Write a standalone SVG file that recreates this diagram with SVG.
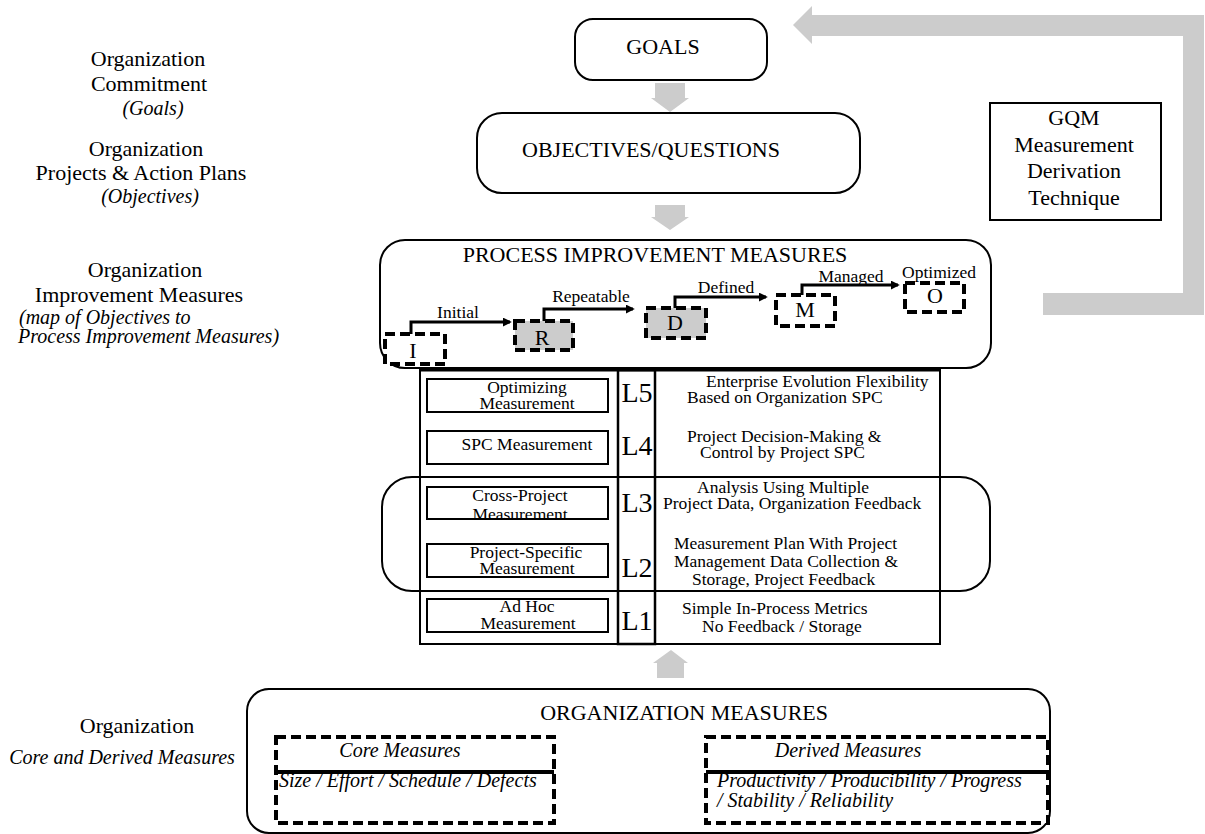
<svg xmlns="http://www.w3.org/2000/svg" width="1205" height="834" viewBox="0 0 1205 834">
  <defs>
    <style>
      .t { font-family: "Liberation Serif", "Times New Roman", serif; fill: #000; }
      .big { font-size: 22px; }
      .mid { font-size: 17.5px; }
      .it { font-size: 20px; font-style: italic; }
      .lv { font-size: 28px; }
      .box { fill: #fff; stroke: #000; stroke-width: 2; }
      .rbox { fill: none; stroke: #000; stroke-width: 2; }
      .dash { fill: #fff; stroke: #000; stroke-width: 4; stroke-dasharray: 10 5; }
      .dashg { fill: #cccccc; stroke: #000; stroke-width: 4; stroke-dasharray: 10 5; }
      .gray { fill: #cccccc; stroke: none; }
      .step { fill: none; stroke: #000; stroke-width: 3; marker-end: url(#head); }
      .ln { stroke: #000; stroke-width: 2; fill: none; }
    </style>
    <marker id="head" viewBox="0 0 10 10" refX="8" refY="5" markerWidth="3" markerHeight="3" orient="auto" markerUnits="strokeWidth">
      <path d="M0,0 L10,5 L0,10 Z" fill="#000"/>
    </marker>
    <clipPath id="clipCross">
      <rect x="427" y="487" width="181" height="31"/>
    </clipPath>
  </defs>

  <rect width="1205" height="834" fill="#fff"/>

  <!-- side captions -->
  <g id="captions">
    <text class="t big" x="148" y="66" text-anchor="middle">Organization</text>
    <text class="t big" x="149" y="91" text-anchor="middle">Commitment</text>
    <text class="t it" x="153" y="115" text-anchor="middle">(Goals)</text>
    <text class="t big" x="146" y="156" text-anchor="middle">Organization</text>
    <text class="t big" x="141" y="180" text-anchor="middle">Projects &amp; Action Plans</text>
    <text class="t it" x="150" y="203" text-anchor="middle">(Objectives)</text>
    <text class="t big" x="145" y="277" text-anchor="middle">Organization</text>
    <text class="t big" x="139" y="302" text-anchor="middle">Improvement Measures</text>
    <text class="t it" x="19" y="324">(map of Objectives to</text>
    <text class="t it" x="18" y="343">Process Improvement Measures)</text>
    <text class="t big" x="137" y="733" text-anchor="middle">Organization</text>
    <text class="t it" x="122" y="764" text-anchor="middle">Core and Derived Measures</text>
  </g>

  <!-- block arrows -->
  <g id="connectors">
    <polygon class="gray" points="655,83 685,83 685,98 689,98 670,112 651,98 655,98"/>
    <polygon class="gray" points="655,205 685,205 685,217 689,217 670,230 651,217 655,217"/>
    <polygon class="gray" points="1043,293 1183,293 1183,36 812,36 812,44 793,25 812,6 812,15 1204,15 1204,315 1043,315"/>
    <polygon class="gray" points="657,678 684,678 684,663 688,663 671,650 653,663 657,663"/>
    <polygon class="gray" points="613,768 652,768 652,760 690,776 652,792 652,784 613,784"/>
  </g>

  <g id="goals">
    <rect class="box" x="575" y="19" width="192" height="61" rx="18"/>
    <text class="t big" x="663" y="54" text-anchor="middle">GOALS</text>
  </g>

  <g id="objectives">
    <rect class="box" x="477" y="113" width="383" height="80" rx="25"/>
    <text class="t big" x="651" y="157" text-anchor="middle">OBJECTIVES/QUESTIONS</text>
  </g>

  <g id="gqm">
    <rect class="box" x="990" y="103" width="171" height="117"/>
    <text class="t big" x="1074" y="125" text-anchor="middle">GQM</text>
    <text class="t big" x="1074" y="152" text-anchor="middle">Measurement</text>
    <text class="t big" x="1074" y="178" text-anchor="middle">Derivation</text>
    <text class="t big" x="1074" y="205" text-anchor="middle">Technique</text>
  </g>

  <g id="process-improvement">
    <rect class="box" x="380" y="240" width="611" height="128" rx="25"/>
    <text class="t big" x="655" y="262" text-anchor="middle">PROCESS IMPROVEMENT MEASURES</text>

    <g id="level-initial">
      <rect class="dash" x="385" y="334" width="60" height="30"/>
      <text class="t big" x="413" y="358" text-anchor="middle">I</text>
    </g>
    <g id="level-repeatable">
      <rect class="dashg" x="515" y="321" width="58" height="29"/>
      <text class="t big" x="542" y="345" text-anchor="middle">R</text>
    </g>
    <g id="level-defined">
      <rect class="dashg" x="646" y="308" width="60" height="30"/>
      <text class="t big" x="675" y="330" text-anchor="middle">D</text>
    </g>
    <g id="level-managed">
      <rect class="dash" x="776" y="295" width="59" height="31"/>
      <text class="t big" x="805" y="317" text-anchor="middle">M</text>
    </g>
    <g id="level-optimized">
      <rect class="dash" x="905" y="283" width="59" height="29"/>
      <text class="t big" x="935" y="303" text-anchor="middle">O</text>
    </g>

    <g id="level-steps">
      <polyline class="step" points="411,334 411,322 510,322"/>
      <polyline class="step" points="544,321 544,309 633,309"/>
      <polyline class="step" points="675,308 675,297 766,297"/>
      <polyline class="step" points="802,295 802,285 898,285"/>
      <text class="t mid" x="458" y="318" text-anchor="middle">Initial</text>
      <text class="t mid" x="591" y="302" text-anchor="middle">Repeatable</text>
      <text class="t mid" x="726" y="293" text-anchor="middle">Defined</text>
      <text class="t mid" x="851" y="282" text-anchor="middle">Managed</text>
      <text class="t mid" x="939" y="278" text-anchor="middle">Optimized</text>
    </g>
  </g>

  <g id="maturity-table">
    <rect class="rbox" x="420" y="370" width="520" height="274"/>
    <line class="ln" x1="420" y1="477" x2="940" y2="477"/>
    <line class="ln" x1="420" y1="591" x2="940" y2="591"/>
    <rect class="rbox" x="618" y="370" width="37" height="274" style="stroke-width:2.5"/>
    <line x1="420" y1="370" x2="940" y2="370" stroke="#000" stroke-width="3"/>

    <g id="row-l5">
      <rect class="box" x="427" y="379" width="181" height="33"/>
      <text class="t mid" x="527" y="393" text-anchor="middle">Optimizing</text>
      <text class="t mid" x="527" y="409" text-anchor="middle">Measurement</text>
      <text class="t lv" x="637" y="402" text-anchor="middle">L5</text>
      <text class="t mid" x="706" y="387">Enterprise Evolution Flexibility</text>
      <text class="t mid" x="687" y="403">Based on Organization SPC</text>
    </g>
    <g id="row-l4">
      <rect class="box" x="427" y="431" width="181" height="33"/>
      <text class="t mid" x="527" y="450" text-anchor="middle">SPC Measurement</text>
      <text class="t lv" x="637" y="455" text-anchor="middle">L4</text>
      <text class="t mid" x="687" y="442">Project Decision-Making &amp;</text>
      <text class="t mid" x="700" y="458">Control by Project SPC</text>
    </g>
    <g id="row-l3">
      <rect class="box" x="427" y="487" width="181" height="32"/>
      <g clip-path="url(#clipCross)">
        <text class="t mid" x="520" y="501" text-anchor="middle">Cross-Project</text>
        <text class="t mid" x="520" y="520" text-anchor="middle">Measurement</text>
      </g>
      <text class="t lv" x="637" y="512" text-anchor="middle">L3</text>
      <text class="t mid" x="697" y="493">Analysis Using Multiple</text>
      <text class="t mid" x="663" y="509">Project Data, Organization Feedback</text>
    </g>
    <g id="row-l2">
      <rect class="box" x="427" y="544" width="181" height="33"/>
      <text class="t mid" x="526" y="558" text-anchor="middle">Project-Specific</text>
      <text class="t mid" x="527" y="574" text-anchor="middle">Measurement</text>
      <text class="t lv" x="637" y="577" text-anchor="middle">L2</text>
      <text class="t mid" x="674" y="549">Measurement Plan With Project</text>
      <text class="t mid" x="674" y="567">Management Data Collection  &amp;</text>
      <text class="t mid" x="692" y="585">Storage, Project Feedback</text>
    </g>
    <g id="row-l1">
      <rect class="box" x="427" y="599" width="181" height="33"/>
      <text class="t mid" x="527" y="612" text-anchor="middle">Ad Hoc</text>
      <text class="t mid" x="528" y="629" text-anchor="middle">Measurement</text>
      <text class="t lv" x="637" y="630" text-anchor="middle">L1</text>
      <text class="t mid" x="682" y="614">Simple In-Process Metrics</text>
      <text class="t mid" x="702" y="632">No Feedback / Storage</text>
    </g>
  </g>

  <g id="project-band">
    <rect class="rbox" x="382" y="477" width="608" height="114" rx="30"/>
  </g>

  <g id="organization-measures">
    <rect class="box" x="247" y="689" width="803" height="144" rx="22"/>
    <text class="t big" x="828" y="720" text-anchor="end">ORGANIZATION MEASURES</text>
    <g id="core-measures">
      <rect class="dash" x="276" y="737" width="278" height="86"/>
      <line x1="276" y1="772" x2="554" y2="772" stroke="#000" stroke-width="4"/>
      <text class="t it" x="400" y="757" text-anchor="middle">Core Measures</text>
      <text class="t it" x="279" y="787">Size / Effort / Schedule / Defects</text>
    </g>
    <g id="derived-measures">
      <rect class="dash" x="706" y="737" width="342" height="86"/>
      <line x1="706" y1="772" x2="1048" y2="772" stroke="#000" stroke-width="4"/>
      <text class="t it" x="848" y="757" text-anchor="middle">Derived Measures</text>
      <text class="t it" x="717" y="787">Productivity / Producibility / Progress</text>
      <text class="t it" x="717" y="807">/ Stability / Reliability</text>
    </g>
  </g>
</svg>
